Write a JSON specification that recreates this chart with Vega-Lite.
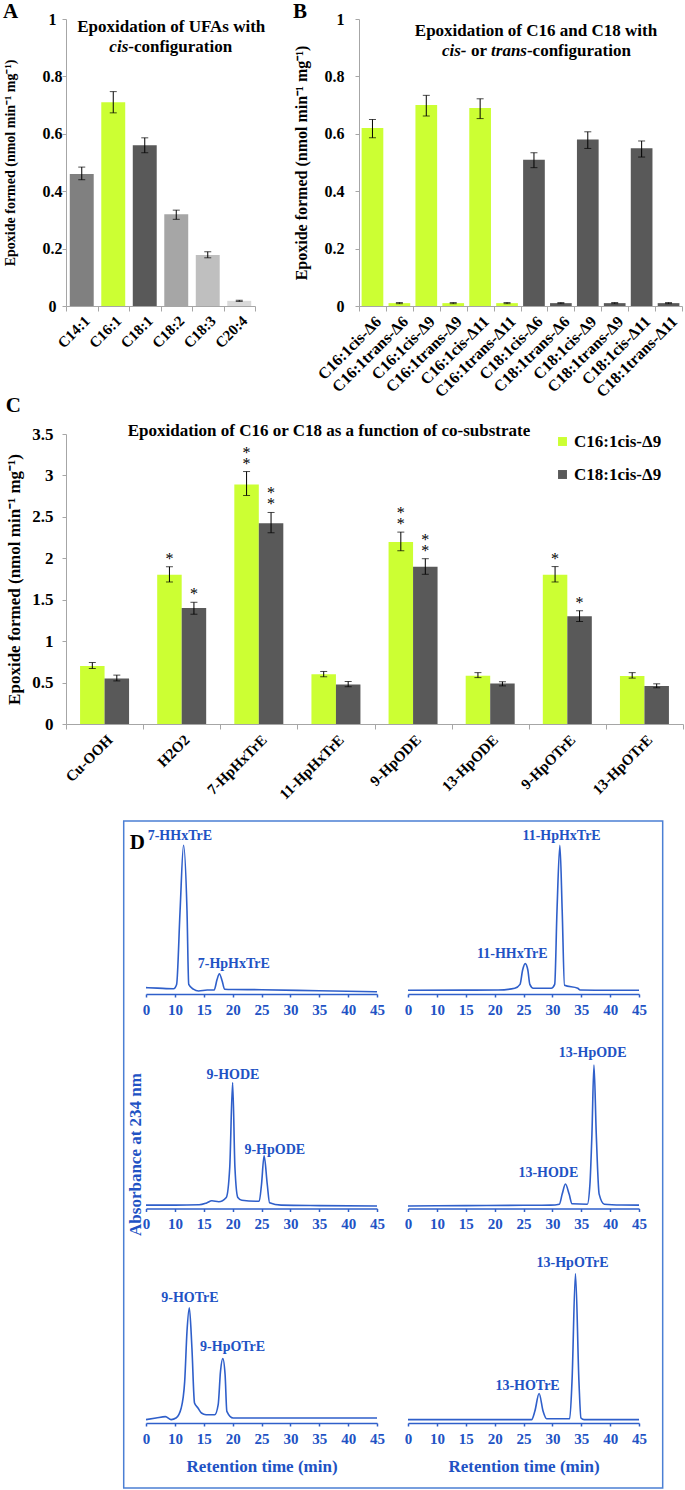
{
  "$schema": "https://vega.github.io/schema/vega-lite/v6.json",
  "padding": {"left": 3, "top": 1, "right": 3, "bottom": 3},
  "background": "white",
  "config": {
    "view": {"stroke": null},
    "font": "Liberation Serif",
    "title": {"font": "Liberation Serif", "fontWeight": "bold", "fontSize": 21, "color": "black"},
    "axis": {"labelFont": "Liberation Serif", "titleFont": "Liberation Serif", "labelFontWeight": "bold", "titleFontWeight": "bold", "labelColor": "black", "titleColor": "black", "grid": false, "domainColor": "#A6A6A6", "tickColor": "#A6A6A6"},
    "legend": {"labelFont": "Liberation Serif", "labelFontWeight": "bold", "labelFontSize": 17, "labelColor": "black", "symbolType": "square", "symbolSize": 80, "symbolStrokeWidth": 0, "rowPadding": 15, "labelOffset": 3, "padding": 0},
    "text": {"font": "Liberation Serif", "fontWeight": "bold", "color": "black"}
  },
  "datasets": {
    "panelA": [
      {"acid": "C14:1", "value": 0.46, "lo": 0.44, "hi": 0.484},
      {"acid": "C16:1", "value": 0.71, "lo": 0.673, "hi": 0.747},
      {"acid": "C18:1", "value": 0.56, "lo": 0.534, "hi": 0.586},
      {"acid": "C18:2", "value": 0.32, "lo": 0.302, "hi": 0.334},
      {"acid": "C18:3", "value": 0.178, "lo": 0.168, "hi": 0.189},
      {"acid": "C20:4", "value": 0.018, "lo": 0.016, "hi": 0.02}
    ],
    "panelB": [
      {"acid": "C16:1cis-Δ6", "chain": "C16", "value": 0.62, "lo": 0.586, "hi": 0.65},
      {"acid": "C16:1trans-Δ6", "chain": "C16", "value": 0.01, "lo": 0.008, "hi": 0.012},
      {"acid": "C16:1cis-Δ9", "chain": "C16", "value": 0.70, "lo": 0.662, "hi": 0.734},
      {"acid": "C16:1trans-Δ9", "chain": "C16", "value": 0.01, "lo": 0.008, "hi": 0.012},
      {"acid": "C16:1cis-Δ11", "chain": "C16", "value": 0.69, "lo": 0.653, "hi": 0.722},
      {"acid": "C16:1trans-Δ11", "chain": "C16", "value": 0.01, "lo": 0.008, "hi": 0.012},
      {"acid": "C18:1cis-Δ6", "chain": "C18", "value": 0.51, "lo": 0.482, "hi": 0.534},
      {"acid": "C18:1trans-Δ6", "chain": "C18", "value": 0.01, "lo": 0.008, "hi": 0.012},
      {"acid": "C18:1cis-Δ9", "chain": "C18", "value": 0.58, "lo": 0.549, "hi": 0.607},
      {"acid": "C18:1trans-Δ9", "chain": "C18", "value": 0.01, "lo": 0.008, "hi": 0.012},
      {"acid": "C18:1cis-Δ11", "chain": "C18", "value": 0.55, "lo": 0.519, "hi": 0.575},
      {"acid": "C18:1trans-Δ11", "chain": "C18", "value": 0.01, "lo": 0.008, "hi": 0.012}
    ],
    "panelC": [
      {"cosub": "Cu-OOH", "series": "C16:1cis-Δ9", "value": 0.70, "lo": 0.67, "hi": 0.742, "sig": ""},
      {"cosub": "Cu-OOH", "series": "C18:1cis-Δ9", "value": 0.55, "lo": 0.52, "hi": 0.59, "sig": ""},
      {"cosub": "H2O2", "series": "C16:1cis-Δ9", "value": 1.80, "lo": 1.714, "hi": 1.898, "sig": "*"},
      {"cosub": "H2O2", "series": "C18:1cis-Δ9", "value": 1.40, "lo": 1.325, "hi": 1.469, "sig": "*"},
      {"cosub": "7-HpHxTrE", "series": "C16:1cis-Δ9", "value": 2.89, "lo": 2.758, "hi": 3.047, "sig": "**"},
      {"cosub": "7-HpHxTrE", "series": "C18:1cis-Δ9", "value": 2.424, "lo": 2.308, "hi": 2.553, "sig": "**"},
      {"cosub": "11-HpHxTrE", "series": "C16:1cis-Δ9", "value": 0.60, "lo": 0.57, "hi": 0.634, "sig": ""},
      {"cosub": "11-HpHxTrE", "series": "C18:1cis-Δ9", "value": 0.477, "lo": 0.45, "hi": 0.513, "sig": ""},
      {"cosub": "9-HpODE", "series": "C16:1cis-Δ9", "value": 2.196, "lo": 2.091, "hi": 2.316, "sig": "**"},
      {"cosub": "9-HpODE", "series": "C18:1cis-Δ9", "value": 1.898, "lo": 1.807, "hi": 1.995, "sig": "**"},
      {"cosub": "13-HpODE", "series": "C16:1cis-Δ9", "value": 0.582, "lo": 0.56, "hi": 0.62, "sig": ""},
      {"cosub": "13-HpODE", "series": "C18:1cis-Δ9", "value": 0.49, "lo": 0.46, "hi": 0.51, "sig": ""},
      {"cosub": "9-HpOTrE", "series": "C16:1cis-Δ9", "value": 1.80, "lo": 1.714, "hi": 1.90, "sig": "*"},
      {"cosub": "9-HpOTrE", "series": "C18:1cis-Δ9", "value": 1.30, "lo": 1.236, "hi": 1.368, "sig": "*"},
      {"cosub": "13-HpOTrE", "series": "C16:1cis-Δ9", "value": 0.58, "lo": 0.554, "hi": 0.62, "sig": ""},
      {"cosub": "13-HpOTrE", "series": "C18:1cis-Δ9", "value": 0.46, "lo": 0.437, "hi": 0.485, "sig": ""}
    ],
    "chrom": [
      {"panel": "7-HpHxTrE", "rt": 5, "abs": 0.04}, {"panel": "7-HpHxTrE", "rt": 7, "abs": 0.037}, {"panel": "7-HpHxTrE", "rt": 9.77, "abs": 0.033}, {"panel": "7-HpHxTrE", "rt": 10.3, "abs": 0.06}, {"panel": "7-HpHxTrE", "rt": 10.9, "abs": 0.52}, {"panel": "7-HpHxTrE", "rt": 11.5, "abs": 0.93}, {"panel": "7-HpHxTrE", "rt": 12.1, "abs": 0.52}, {"panel": "7-HpHxTrE", "rt": 12.4, "abs": 0.06}, {"panel": "7-HpHxTrE", "rt": 13.2, "abs": 0.03}, {"panel": "7-HpHxTrE", "rt": 14.1, "abs": 0.019}, {"panel": "7-HpHxTrE", "rt": 15.6, "abs": 0.025}, {"panel": "7-HpHxTrE", "rt": 16.8, "abs": 0.025}, {"panel": "7-HpHxTrE", "rt": 17.3, "abs": 0.09}, {"panel": "7-HpHxTrE", "rt": 17.7, "abs": 0.127}, {"panel": "7-HpHxTrE", "rt": 18.2, "abs": 0.08}, {"panel": "7-HpHxTrE", "rt": 18.6, "abs": 0.03}, {"panel": "7-HpHxTrE", "rt": 20, "abs": 0.028}, {"panel": "7-HpHxTrE", "rt": 25, "abs": 0.027}, {"panel": "7-HpHxTrE", "rt": 35, "abs": 0.02}, {"panel": "7-HpHxTrE", "rt": 45, "abs": 0.014},
      {"panel": "11-HpHxTrE", "rt": 5, "abs": 0.023}, {"panel": "11-HpHxTrE", "rt": 15, "abs": 0.024}, {"panel": "11-HpHxTrE", "rt": 20.6, "abs": 0.025}, {"panel": "11-HpHxTrE", "rt": 23.5, "abs": 0.036}, {"panel": "11-HpHxTrE", "rt": 24.4, "abs": 0.06}, {"panel": "11-HpHxTrE", "rt": 24.85, "abs": 0.15}, {"panel": "11-HpHxTrE", "rt": 25.3, "abs": 0.19}, {"panel": "11-HpHxTrE", "rt": 25.75, "abs": 0.15}, {"panel": "11-HpHxTrE", "rt": 26.1, "abs": 0.06}, {"panel": "11-HpHxTrE", "rt": 26.7, "abs": 0.036}, {"panel": "11-HpHxTrE", "rt": 29.8, "abs": 0.036}, {"panel": "11-HpHxTrE", "rt": 30.4, "abs": 0.06}, {"panel": "11-HpHxTrE", "rt": 30.8, "abs": 0.52}, {"panel": "11-HpHxTrE", "rt": 31.3, "abs": 0.93}, {"panel": "11-HpHxTrE", "rt": 31.7, "abs": 0.52}, {"panel": "11-HpHxTrE", "rt": 32.1, "abs": 0.055}, {"panel": "11-HpHxTrE", "rt": 34.4, "abs": 0.036}, {"panel": "11-HpHxTrE", "rt": 34.8, "abs": 0.025}, {"panel": "11-HpHxTrE", "rt": 40, "abs": 0.023}, {"panel": "11-HpHxTrE", "rt": 45, "abs": 0.023},
      {"panel": "9-HpODE", "rt": 5, "abs": 0.021}, {"panel": "9-HpODE", "rt": 10, "abs": 0.021}, {"panel": "9-HpODE", "rt": 14.2, "abs": 0.023}, {"panel": "9-HpODE", "rt": 15.5, "abs": 0.035}, {"panel": "9-HpODE", "rt": 16.4, "abs": 0.048}, {"panel": "9-HpODE", "rt": 17.6, "abs": 0.042}, {"panel": "9-HpODE", "rt": 18.9, "abs": 0.069}, {"panel": "9-HpODE", "rt": 19.5, "abs": 0.256}, {"panel": "9-HpODE", "rt": 20.0, "abs": 0.7875}, {"panel": "9-HpODE", "rt": 20.4, "abs": 0.256}, {"panel": "9-HpODE", "rt": 20.9, "abs": 0.069}, {"panel": "9-HpODE", "rt": 21.6, "abs": 0.052}, {"panel": "9-HpODE", "rt": 24.0, "abs": 0.045}, {"panel": "9-HpODE", "rt": 24.6, "abs": 0.045}, {"panel": "9-HpODE", "rt": 25.0, "abs": 0.15}, {"panel": "9-HpODE", "rt": 25.45, "abs": 0.329}, {"panel": "9-HpODE", "rt": 26.0, "abs": 0.15}, {"panel": "9-HpODE", "rt": 26.4, "abs": 0.036}, {"panel": "9-HpODE", "rt": 28.4, "abs": 0.021}, {"panel": "9-HpODE", "rt": 35, "abs": 0.018}, {"panel": "9-HpODE", "rt": 45, "abs": 0.016},
      {"panel": "13-HpODE", "rt": 5, "abs": 0.016}, {"panel": "13-HpODE", "rt": 15, "abs": 0.018}, {"panel": "13-HpODE", "rt": 25, "abs": 0.02}, {"panel": "13-HpODE", "rt": 29.7, "abs": 0.021}, {"panel": "13-HpODE", "rt": 31.2, "abs": 0.027}, {"panel": "13-HpODE", "rt": 31.7, "abs": 0.09}, {"panel": "13-HpODE", "rt": 32.26, "abs": 0.153}, {"panel": "13-HpODE", "rt": 32.9, "abs": 0.09}, {"panel": "13-HpODE", "rt": 33.4, "abs": 0.03}, {"panel": "13-HpODE", "rt": 36.05, "abs": 0.027}, {"panel": "13-HpODE", "rt": 36.5, "abs": 0.15}, {"panel": "13-HpODE", "rt": 36.85, "abs": 0.465}, {"panel": "13-HpODE", "rt": 37.2, "abs": 0.896}, {"panel": "13-HpODE", "rt": 37.6, "abs": 0.465}, {"panel": "13-HpODE", "rt": 38.1, "abs": 0.09}, {"panel": "13-HpODE", "rt": 39, "abs": 0.027}, {"panel": "13-HpODE", "rt": 42, "abs": 0.022}, {"panel": "13-HpODE", "rt": 45, "abs": 0.021},
      {"panel": "9-HpOTrE", "rt": 5, "abs": 0.021}, {"panel": "9-HpOTrE", "rt": 6.74, "abs": 0.031}, {"panel": "9-HpOTrE", "rt": 8.36, "abs": 0.04}, {"panel": "9-HpOTrE", "rt": 9.35, "abs": 0.021}, {"panel": "9-HpOTrE", "rt": 10.2, "abs": 0.031}, {"panel": "9-HpOTrE", "rt": 11.1, "abs": 0.094}, {"panel": "9-HpOTrE", "rt": 11.7, "abs": 0.26}, {"panel": "9-HpOTrE", "rt": 12.1, "abs": 0.573}, {"panel": "9-HpOTrE", "rt": 12.5, "abs": 0.72}, {"panel": "9-HpOTrE", "rt": 12.95, "abs": 0.47}, {"panel": "9-HpOTrE", "rt": 13.4, "abs": 0.125}, {"panel": "9-HpOTrE", "rt": 14.0, "abs": 0.094}, {"panel": "9-HpOTrE", "rt": 14.6, "abs": 0.0625}, {"panel": "9-HpOTrE", "rt": 15.4, "abs": 0.052}, {"panel": "9-HpOTrE", "rt": 16.9, "abs": 0.052}, {"panel": "9-HpOTrE", "rt": 17.5, "abs": 0.115}, {"panel": "9-HpOTrE", "rt": 17.9, "abs": 0.323}, {"panel": "9-HpOTrE", "rt": 18.3, "abs": 0.4025}, {"panel": "9-HpOTrE", "rt": 18.7, "abs": 0.30}, {"panel": "9-HpOTrE", "rt": 19.0, "abs": 0.073}, {"panel": "9-HpOTrE", "rt": 20.1, "abs": 0.031}, {"panel": "9-HpOTrE", "rt": 30, "abs": 0.031}, {"panel": "9-HpOTrE", "rt": 45, "abs": 0.031},
      {"panel": "13-HpOTrE", "rt": 5, "abs": 0.021}, {"panel": "13-HpOTrE", "rt": 15, "abs": 0.021}, {"panel": "13-HpOTrE", "rt": 26.4, "abs": 0.021}, {"panel": "13-HpOTrE", "rt": 26.96, "abs": 0.073}, {"panel": "13-HpOTrE", "rt": 27.7, "abs": 0.184}, {"panel": "13-HpOTrE", "rt": 28.4, "abs": 0.073}, {"panel": "13-HpOTrE", "rt": 29, "abs": 0.027}, {"panel": "13-HpOTrE", "rt": 33.0, "abs": 0.027}, {"panel": "13-HpOTrE", "rt": 33.4, "abs": 0.26}, {"panel": "13-HpOTrE", "rt": 34.0, "abs": 0.934}, {"panel": "13-HpOTrE", "rt": 34.6, "abs": 0.26}, {"panel": "13-HpOTrE", "rt": 34.95, "abs": 0.031}, {"panel": "13-HpOTrE", "rt": 35.5, "abs": 0.021}, {"panel": "13-HpOTrE", "rt": 45, "abs": 0.021}
    ],
    "peaks": [
      {"panel": "7-HpHxTrE", "label": "7-HHxTrE", "rt": 10.86, "abs": 0.9875},
      {"panel": "7-HpHxTrE", "label": "7-HpHxTrE", "rt": 20.2, "abs": 0.1875},
      {"panel": "11-HpHxTrE", "label": "11-HHxTrE", "rt": 23.07, "abs": 0.25},
      {"panel": "11-HpHxTrE", "label": "11-HpHxTrE", "rt": 31.59, "abs": 0.9875},
      {"panel": "9-HpODE", "label": "9-HODE", "rt": 20.06, "abs": 0.834},
      {"panel": "9-HpODE", "label": "9-HpODE", "rt": 27.3, "abs": 0.367},
      {"panel": "13-HpODE", "label": "13-HODE", "rt": 29.3, "abs": 0.221},
      {"panel": "13-HpODE", "label": "13-HpODE", "rt": 36.98, "abs": 0.975},
      {"panel": "9-HpOTrE", "label": "9-HOTrE", "rt": 12.6, "abs": 0.781},
      {"panel": "9-HpOTrE", "label": "9-HpOTrE", "rt": 20.0, "abs": 0.473},
      {"panel": "13-HpOTrE", "label": "13-HOTrE", "rt": 25.7, "abs": 0.229},
      {"panel": "13-HpOTrE", "label": "13-HpOTrE", "rt": 33.5, "abs": 0.998}
    ]
  },
  "vconcat": [
    {
      "vconcat": [
        {
          "hconcat": [
            {
              "title": {"text": "A", "anchor": "start", "frame": "bounds", "offset": -11},
              "width": 189, "height": 287,
              "layer": [
                {"data": {"name": "panelA"}, "mark": {"type": "bar", "width": {"band": 0.76}},
                 "encoding": {
                   "x": {"field": "acid", "type": "nominal", "sort": null, "scale": {"domain": ["C14:1", "C16:1", "C18:1", "C18:2", "C18:3", "C20:4"], "paddingInner": 0, "paddingOuter": 0}, "axis": {"title": null, "labelAngle": -45, "labelFontSize": 15, "tickBand": "extent", "tickSize": 5, "labelPadding": 2}},
                   "y": {"field": "value", "type": "quantitative", "title": "Epoxide formed (nmol min⁻¹ mg⁻¹)", "scale": {"domain": [0, 1], "nice": false}, "axis": {"values": [0, 0.2, 0.4, 0.6, 0.8, 1], "format": "~g", "labelFontSize": 16, "labelAlign": "center", "labelPadding": 10, "tickSize": 4, "titleFontSize": 14, "titlePadding": 25}},
                   "color": {"condition": [{"test": "datum.acid === 'C14:1'", "value": "#808080"}, {"test": "datum.acid === 'C16:1'", "value": "#CCFF33"}, {"test": "datum.acid === 'C18:1'", "value": "#595959"}, {"test": "datum.acid === 'C18:2'", "value": "#A6A6A6"}, {"test": "datum.acid === 'C18:3'", "value": "#BFBFBF"}], "value": "#D9D9D9"}
                 }},
                {"data": {"name": "panelA"}, "mark": {"type": "rule", "color": "black", "strokeWidth": 1},
                 "encoding": {"x": {"field": "acid", "type": "nominal", "sort": null}, "y": {"field": "lo", "type": "quantitative", "title": "Epoxide formed (nmol min⁻¹ mg⁻¹)"}, "y2": {"field": "hi"}}},
                {"data": {"name": "panelA"}, "mark": {"type": "tick", "color": "black", "size": 7, "thickness": 1, "orient": "horizontal"},
                 "encoding": {"x": {"field": "acid", "type": "nominal", "sort": null}, "y": {"field": "lo", "type": "quantitative", "title": "Epoxide formed (nmol min⁻¹ mg⁻¹)"}}},
                {"data": {"name": "panelA"}, "mark": {"type": "tick", "color": "black", "size": 7, "thickness": 1, "orient": "horizontal"},
                 "encoding": {"x": {"field": "acid", "type": "nominal", "sort": null}, "y": {"field": "hi", "type": "quantitative", "title": "Epoxide formed (nmol min⁻¹ mg⁻¹)"}}},
                {"data": {"values": [{"t": "Epoxidation of UFAs with"}]}, "mark": {"type": "text", "fontSize": 17, "dx": -5, "dy": 8, "baseline": "middle", "align": "center"},
                 "encoding": {"x": {"datum": "C18:2"}, "y": {"datum": 1}, "text": {"field": "t"}}},
                {"data": {"values": [{"t": "cis"}]}, "mark": {"type": "text", "fontSize": 17, "fontStyle": "italic", "dx": 15, "dy": 28, "baseline": "middle", "align": "right"},
                 "encoding": {"x": {"datum": "C16:1"}, "y": {"datum": 1}, "text": {"field": "t"}}},
                {"data": {"values": [{"t": "-configuration"}]}, "mark": {"type": "text", "fontSize": 17, "dx": 15, "dy": 28, "baseline": "middle", "align": "left"},
                 "encoding": {"x": {"datum": "C16:1"}, "y": {"datum": 1}, "text": {"field": "t"}}}
              ]
            },
            {
              "title": {"text": "B", "anchor": "start", "frame": "bounds", "offset": -11},
              "width": 323, "height": 287,
              "layer": [
                {"data": {"name": "panelB"}, "mark": {"type": "bar", "width": {"band": 0.806}},
                 "encoding": {
                   "x": {"field": "acid", "type": "nominal", "sort": null, "scale": {"domain": ["C16:1cis-Δ6", "C16:1trans-Δ6", "C16:1cis-Δ9", "C16:1trans-Δ9", "C16:1cis-Δ11", "C16:1trans-Δ11", "C18:1cis-Δ6", "C18:1trans-Δ6", "C18:1cis-Δ9", "C18:1trans-Δ9", "C18:1cis-Δ11", "C18:1trans-Δ11"], "paddingInner": 0, "paddingOuter": 0}, "axis": {"title": null, "labelAngle": -45, "labelFontSize": 16, "tickBand": "extent", "tickSize": 5, "labelPadding": 2}},
                   "y": {"field": "value", "type": "quantitative", "title": "Epoxide formed (nmol min⁻¹ mg⁻¹)", "scale": {"domain": [0, 1], "nice": false}, "axis": {"values": [0, 0.2, 0.4, 0.6, 0.8, 1], "format": "~g", "labelFontSize": 16, "labelPadding": 11, "tickSize": 4, "titleFontSize": 16, "titlePadding": 15}},
                   "color": {"condition": {"test": "datum.chain === 'C16'", "value": "#CCFF33"}, "value": "#595959"}
                 }},
                {"data": {"name": "panelB"}, "mark": {"type": "rule", "color": "black", "strokeWidth": 1},
                 "encoding": {"x": {"field": "acid", "type": "nominal", "sort": null}, "y": {"field": "lo", "type": "quantitative", "title": "Epoxide formed (nmol min⁻¹ mg⁻¹)"}, "y2": {"field": "hi"}}},
                {"data": {"name": "panelB"}, "mark": {"type": "tick", "color": "black", "size": 7, "thickness": 1, "orient": "horizontal"},
                 "encoding": {"x": {"field": "acid", "type": "nominal", "sort": null}, "y": {"field": "lo", "type": "quantitative", "title": "Epoxide formed (nmol min⁻¹ mg⁻¹)"}}},
                {"data": {"name": "panelB"}, "mark": {"type": "tick", "color": "black", "size": 7, "thickness": 1, "orient": "horizontal"},
                 "encoding": {"x": {"field": "acid", "type": "nominal", "sort": null}, "y": {"field": "hi", "type": "quantitative", "title": "Epoxide formed (nmol min⁻¹ mg⁻¹)"}}},
                {"data": {"values": [{"t": "Epoxidation of C16 and C18 with"}]}, "mark": {"type": "text", "fontSize": 17, "dx": 2, "dy": 12, "baseline": "middle", "align": "center"},
                 "encoding": {"x": {"datum": "C18:1cis-Δ6"}, "y": {"datum": 1}, "text": {"field": "t"}}},
                {"data": {"values": [{"t": "cis-"}]}, "mark": {"type": "text", "fontSize": 17, "fontStyle": "italic", "dx": -67.5, "dy": 32, "baseline": "middle", "align": "right"},
                 "encoding": {"x": {"datum": "C18:1cis-Δ6"}, "y": {"datum": 1}, "text": {"field": "t"}}},
                {"data": {"values": [{"t": "or"}]}, "mark": {"type": "text", "fontSize": 17, "dx": -55, "dy": 32, "baseline": "middle", "align": "center"},
                 "encoding": {"x": {"datum": "C18:1cis-Δ6"}, "y": {"datum": 1}, "text": {"field": "t"}}},
                {"data": {"values": [{"t": "trans"}]}, "mark": {"type": "text", "fontSize": 17, "fontStyle": "italic", "dx": -7, "dy": 32, "baseline": "middle", "align": "right"},
                 "encoding": {"x": {"datum": "C18:1cis-Δ6"}, "y": {"datum": 1}, "text": {"field": "t"}}},
                {"data": {"values": [{"t": "-configuration"}]}, "mark": {"type": "text", "fontSize": 17, "dx": -7, "dy": 32, "baseline": "middle", "align": "left"},
                 "encoding": {"x": {"datum": "C18:1cis-Δ6"}, "y": {"datum": 1}, "text": {"field": "t"}}}
              ]
            }
          ],
          "spacing": 26
        },
        {
          "title": {"text": "C", "anchor": "start", "frame": "bounds", "offset": 6},
          "width": 617, "height": 290,
          "layer": [
            {"data": {"name": "panelC"}, "mark": {"type": "bar"},
             "encoding": {
               "x": {"field": "cosub", "type": "nominal", "sort": null, "scale": {"domain": ["Cu-OOH", "H2O2", "7-HpHxTrE", "11-HpHxTrE", "9-HpODE", "13-HpODE", "9-HpOTrE", "13-HpOTrE"], "paddingInner": 0, "paddingOuter": 0}, "axis": {"title": null, "labelAngle": -45, "labelFontSize": 15, "tickBand": "extent", "tickSize": 5, "labelPadding": 3}},
               "xOffset": {"field": "series", "type": "nominal", "scale": {"domain": ["C16:1cis-Δ9", "C18:1cis-Δ9"], "paddingOuter": 0.574, "paddingInner": 0}},
               "y": {"field": "value", "type": "quantitative", "title": "Epoxide formed (nmol min⁻¹ mg⁻¹)", "scale": {"domain": [0, 3.5], "nice": false}, "axis": {"values": [0, 0.5, 1, 1.5, 2, 2.5, 3, 3.5], "format": "~g", "labelFontSize": 17, "labelPadding": 9, "tickSize": 4, "titleFontSize": 17, "titlePadding": 8}},
               "color": {"field": "series", "type": "nominal", "scale": {"domain": ["C16:1cis-Δ9", "C18:1cis-Δ9"], "range": ["#CCFF33", "#595959"]}, "legend": {"title": null, "orient": "none", "legendX": 488, "legendY": 414}}
             }},
            {"data": {"name": "panelC"}, "mark": {"type": "rule", "color": "black", "strokeWidth": 1},
             "encoding": {"x": {"field": "cosub", "type": "nominal", "sort": null}, "xOffset": {"field": "series", "type": "nominal"}, "y": {"field": "lo", "type": "quantitative", "title": "Epoxide formed (nmol min⁻¹ mg⁻¹)"}, "y2": {"field": "hi"}}},
            {"data": {"name": "panelC"}, "mark": {"type": "tick", "color": "black", "size": 7, "thickness": 1, "orient": "horizontal"},
             "encoding": {"x": {"field": "cosub", "type": "nominal", "sort": null}, "xOffset": {"field": "series", "type": "nominal"}, "y": {"field": "lo", "type": "quantitative", "title": "Epoxide formed (nmol min⁻¹ mg⁻¹)"}}},
            {"data": {"name": "panelC"}, "mark": {"type": "tick", "color": "black", "size": 7, "thickness": 1, "orient": "horizontal"},
             "encoding": {"x": {"field": "cosub", "type": "nominal", "sort": null}, "xOffset": {"field": "series", "type": "nominal"}, "y": {"field": "hi", "type": "quantitative", "title": "Epoxide formed (nmol min⁻¹ mg⁻¹)"}}},
            {"data": {"name": "panelC"}, "transform": [{"filter": "datum.sig != ''"}], "mark": {"type": "text", "fontSize": 16, "fontWeight": "normal", "baseline": "bottom", "align": "center"},
             "encoding": {"x": {"field": "cosub", "type": "nominal", "sort": null}, "xOffset": {"field": "series", "type": "nominal"}, "y": {"field": "hi", "type": "quantitative", "title": "Epoxide formed (nmol min⁻¹ mg⁻¹)"}, "text": {"value": "*"}}},
            {"data": {"name": "panelC"}, "transform": [{"filter": "datum.sig == '**'"}], "mark": {"type": "text", "fontSize": 16, "fontWeight": "normal", "baseline": "bottom", "align": "center", "dy": -11},
             "encoding": {"x": {"field": "cosub", "type": "nominal", "sort": null}, "xOffset": {"field": "series", "type": "nominal"}, "y": {"field": "hi", "type": "quantitative", "title": "Epoxide formed (nmol min⁻¹ mg⁻¹)"}, "text": {"value": "*"}}},
            {"data": {"values": [{"t": "Epoxidation of C16 or C18 as a function of co-substrate"}]}, "mark": {"type": "text", "fontSize": 17, "dx": -7, "dy": -3, "baseline": "middle", "align": "center"},
             "encoding": {"x": {"datum": "11-HpHxTrE"}, "y": {"datum": 3.5}, "text": {"field": "t"}}}
          ]
        }
      ],
      "spacing": -5
    },
    {
      "hconcat": [
        {"width": 56, "height": 10, "data": {"values": [{"s": 0}]}, "mark": {"type": "point", "opacity": 0}, "encoding": {}},
        {
          "concat": [
            {"width": 231, "height": 170, "layer": [
              {"data": {"name": "chrom"}, "transform": [{"filter": "datum.panel === '7-HpHxTrE'"}], "mark": {"type": "line", "color": "#2F5FCA", "strokeWidth": 1.6, "interpolate": "monotone"},
               "encoding": {"x": {"field": "rt", "type": "quantitative", "scale": {"domain": [5, 45], "nice": false, "zero": false}, "axis": {"values": [5, 10, 15, 20, 25, 30, 35, 40, 45], "tickCount": 9, "labelExpr": "datum.value == 5 ? '0' : datum.label", "labelFlush": false, "labelOverlap": false, "title": null, "domainColor": "#2F5FCA", "domainWidth": 1.5, "tickColor": "#2F5FCA", "tickSize": 3, "tickWidth": 1.5, "labelColor": "#2152C4", "labelFontSize": 15, "labelPadding": 5, "labelAngle": 0}},
                            "y": {"field": "abs", "type": "quantitative", "scale": {"domain": [0, 1.0625], "nice": false}, "axis": null}}},
              {"data": {"name": "peaks"}, "transform": [{"filter": "datum.panel === '7-HpHxTrE'"}], "mark": {"type": "text", "color": "#2152C4", "fontSize": 14, "baseline": "middle", "align": "center"},
               "encoding": {"x": {"field": "rt", "type": "quantitative"}, "y": {"field": "abs", "type": "quantitative"}, "text": {"field": "label"}}},
              {"data": {"values": [{"t": "D"}]}, "mark": {"type": "text", "fontSize": 21, "color": "black", "baseline": "middle", "align": "center"},
               "encoding": {"x": {"datum": 3.48}, "y": {"datum": 0.944}, "text": {"field": "t"}}},
              {"data": {"values": [{"t": "Absorbance at 234 nm"}]}, "mark": {"type": "text", "fontSize": 17, "color": "#2152C4", "angle": 270, "baseline": "middle", "align": "center"},
               "encoding": {"x": {"datum": 3.22}, "y": {"datum": -1.003}, "text": {"field": "t"}}},
              {"data": {"values": [{"part": "frame"}]}, "mark": {"type": "rect", "filled": false, "color": "#4B7FD4", "strokeWidth": 1.5},
               "encoding": {"x": {"datum": 1.14}, "x2": {"datum": 94.47}, "y": {"datum": 1.08125}, "y2": {"datum": -3.0875}}}
            ]},
            {"width": 231, "height": 170, "layer": [
              {"data": {"name": "chrom"}, "transform": [{"filter": "datum.panel === '11-HpHxTrE'"}], "mark": {"type": "line", "color": "#2F5FCA", "strokeWidth": 1.6, "interpolate": "monotone"},
               "encoding": {"x": {"field": "rt", "type": "quantitative", "scale": {"domain": [5, 45], "nice": false, "zero": false}, "axis": {"values": [5, 10, 15, 20, 25, 30, 35, 40, 45], "tickCount": 9, "labelExpr": "datum.value == 5 ? '0' : datum.label", "labelFlush": false, "labelOverlap": false, "title": null, "domainColor": "#2F5FCA", "domainWidth": 1.5, "tickColor": "#2F5FCA", "tickSize": 3, "tickWidth": 1.5, "labelColor": "#2152C4", "labelFontSize": 15, "labelPadding": 5, "labelAngle": 0}},
                            "y": {"field": "abs", "type": "quantitative", "scale": {"domain": [0, 1.0625], "nice": false}, "axis": null}}},
              {"data": {"name": "peaks"}, "transform": [{"filter": "datum.panel === '11-HpHxTrE'"}], "mark": {"type": "text", "color": "#2152C4", "fontSize": 14, "baseline": "middle", "align": "center"},
               "encoding": {"x": {"field": "rt", "type": "quantitative"}, "y": {"field": "abs", "type": "quantitative"}, "text": {"field": "label"}}}
            ]},
            {"width": 231, "height": 170, "layer": [
              {"data": {"name": "chrom"}, "transform": [{"filter": "datum.panel === '9-HpODE'"}], "mark": {"type": "line", "color": "#2F5FCA", "strokeWidth": 1.6, "interpolate": "monotone"},
               "encoding": {"x": {"field": "rt", "type": "quantitative", "scale": {"domain": [5, 45], "nice": false, "zero": false}, "axis": {"values": [5, 10, 15, 20, 25, 30, 35, 40, 45], "tickCount": 9, "labelExpr": "datum.value == 5 ? '0' : datum.label", "labelFlush": false, "labelOverlap": false, "title": null, "domainColor": "#2F5FCA", "domainWidth": 1.5, "tickColor": "#2F5FCA", "tickSize": 3, "tickWidth": 1.5, "labelColor": "#2152C4", "labelFontSize": 15, "labelPadding": 5, "labelAngle": 0}},
                            "y": {"field": "abs", "type": "quantitative", "scale": {"domain": [0, 1.0625], "nice": false}, "axis": null}}},
              {"data": {"name": "peaks"}, "transform": [{"filter": "datum.panel === '9-HpODE'"}], "mark": {"type": "text", "color": "#2152C4", "fontSize": 14, "baseline": "middle", "align": "center"},
               "encoding": {"x": {"field": "rt", "type": "quantitative"}, "y": {"field": "abs", "type": "quantitative"}, "text": {"field": "label"}}}
            ]},
            {"width": 231, "height": 170, "layer": [
              {"data": {"name": "chrom"}, "transform": [{"filter": "datum.panel === '13-HpODE'"}], "mark": {"type": "line", "color": "#2F5FCA", "strokeWidth": 1.6, "interpolate": "monotone"},
               "encoding": {"x": {"field": "rt", "type": "quantitative", "scale": {"domain": [5, 45], "nice": false, "zero": false}, "axis": {"values": [5, 10, 15, 20, 25, 30, 35, 40, 45], "tickCount": 9, "labelExpr": "datum.value == 5 ? '0' : datum.label", "labelFlush": false, "labelOverlap": false, "title": null, "domainColor": "#2F5FCA", "domainWidth": 1.5, "tickColor": "#2F5FCA", "tickSize": 3, "tickWidth": 1.5, "labelColor": "#2152C4", "labelFontSize": 15, "labelPadding": 5, "labelAngle": 0}},
                            "y": {"field": "abs", "type": "quantitative", "scale": {"domain": [0, 1.0625], "nice": false}, "axis": null}}},
              {"data": {"name": "peaks"}, "transform": [{"filter": "datum.panel === '13-HpODE'"}], "mark": {"type": "text", "color": "#2152C4", "fontSize": 14, "baseline": "middle", "align": "center"},
               "encoding": {"x": {"field": "rt", "type": "quantitative"}, "y": {"field": "abs", "type": "quantitative"}, "text": {"field": "label"}}}
            ]},
            {"width": 231, "height": 170, "layer": [
              {"data": {"name": "chrom"}, "transform": [{"filter": "datum.panel === '9-HpOTrE'"}], "mark": {"type": "line", "color": "#2F5FCA", "strokeWidth": 1.6, "interpolate": "monotone"},
               "encoding": {"x": {"field": "rt", "type": "quantitative", "scale": {"domain": [5, 45], "nice": false, "zero": false}, "axis": {"values": [5, 10, 15, 20, 25, 30, 35, 40, 45], "tickCount": 9, "labelExpr": "datum.value == 5 ? '0' : datum.label", "labelFlush": false, "labelOverlap": false, "title": "Retention time (min)", "titleColor": "#2152C4", "titleFontSize": 17, "titlePadding": 12, "domainColor": "#2F5FCA", "domainWidth": 1.5, "tickColor": "#2F5FCA", "tickSize": 3, "tickWidth": 1.5, "labelColor": "#2152C4", "labelFontSize": 15, "labelPadding": 5, "labelAngle": 0}},
                            "y": {"field": "abs", "type": "quantitative", "scale": {"domain": [0, 1.0625], "nice": false}, "axis": null}}},
              {"data": {"name": "peaks"}, "transform": [{"filter": "datum.panel === '9-HpOTrE'"}], "mark": {"type": "text", "color": "#2152C4", "fontSize": 14, "baseline": "middle", "align": "center"},
               "encoding": {"x": {"field": "rt", "type": "quantitative"}, "y": {"field": "abs", "type": "quantitative"}, "text": {"field": "label"}}}
            ]},
            {"width": 231, "height": 170, "layer": [
              {"data": {"name": "chrom"}, "transform": [{"filter": "datum.panel === '13-HpOTrE'"}], "mark": {"type": "line", "color": "#2F5FCA", "strokeWidth": 1.6, "interpolate": "monotone"},
               "encoding": {"x": {"field": "rt", "type": "quantitative", "scale": {"domain": [5, 45], "nice": false, "zero": false}, "axis": {"values": [5, 10, 15, 20, 25, 30, 35, 40, 45], "tickCount": 9, "labelExpr": "datum.value == 5 ? '0' : datum.label", "labelFlush": false, "labelOverlap": false, "title": "Retention time (min)", "titleColor": "#2152C4", "titleFontSize": 17, "titlePadding": 12, "domainColor": "#2F5FCA", "domainWidth": 1.5, "tickColor": "#2F5FCA", "tickSize": 3, "tickWidth": 1.5, "labelColor": "#2152C4", "labelFontSize": 15, "labelPadding": 5, "labelAngle": 0}},
                            "y": {"field": "abs", "type": "quantitative", "scale": {"domain": [0, 1.0625], "nice": false}, "axis": null}}},
              {"data": {"name": "peaks"}, "transform": [{"filter": "datum.panel === '13-HpOTrE'"}], "mark": {"type": "text", "color": "#2152C4", "fontSize": 14, "baseline": "middle", "align": "center"},
               "encoding": {"x": {"field": "rt", "type": "quantitative"}, "y": {"field": "abs", "type": "quantitative"}, "text": {"field": "label"}}}
            ]}
          ],
          "columns": 2,
          "bounds": "flush",
          "spacing": {"row": 44.5, "column": 31}
        }
      ],
      "spacing": 0
    }
  ],
  "spacing": 18
}
